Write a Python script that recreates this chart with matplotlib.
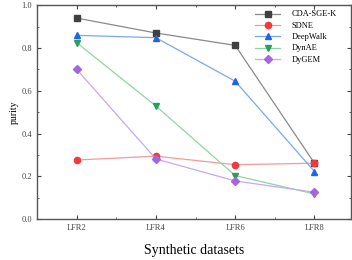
import numpy as np
import matplotlib
matplotlib.use("Agg")
import matplotlib.pyplot as plt
from matplotlib.ticker import MultipleLocator

plt.rcParams['font.family'] = ['Liberation Serif', 'DejaVu Serif']

datasets = ['LFR2', 'LFR4', 'LFR6', 'LFR8']
cda_sge_k = [0.941, 0.871, 0.813, 0.261]
sdne = [0.276, 0.294, 0.254, 0.261]
deepwalk = [0.860, 0.849, 0.645, 0.222]
dynae = [0.826, 0.529, 0.203, 0.117]
dygem = [0.701, 0.281, 0.178, 0.125]

series = [
    ('CDA-SGE-K', cda_sge_k, 's', '#8a8a8a', '#404040'),
    ('SDNE', sdne, 'o', '#f59a9a', '#f03a3a'),
    ('DeepWalk', deepwalk, '^', '#7aa8f0', '#1f66e6'),
    ('DynAE', dynae, 'v', '#8fd4a8', '#2a9e5c'),
    ('DyGEM', dygem, 'D', '#c8a8ee', '#a366e0'),
]

fig = plt.figure(figsize=(3.52, 2.60), dpi=100)
ax = fig.add_axes([0.105, 0.158, 0.892, 0.821])
x = np.arange(len(datasets))

for name, vals, mk, lc, mc in series:
    ms = 4 if mk == 'D' else 4.5
    ax.plot(x, vals, color=lc, lw=0.9, marker=mk, markersize=ms,
            markerfacecolor=mc, markeredgecolor=mc, label=name)

ax.set_xlim(-0.5, 3.46)
ax.set_ylim(0, 1.0)
ax.set_xticks(x)
ax.set_xticklabels(datasets)
ax.xaxis.set_minor_locator(MultipleLocator(0.5))
ax.yaxis.set_major_locator(MultipleLocator(0.2))
ax.yaxis.set_minor_locator(MultipleLocator(0.1))
ax.yaxis.set_major_formatter(matplotlib.ticker.FormatStrFormatter('%.1f'))
ax.tick_params(which='both', direction='in', top=True, right=True, labelsize=6, colors='#444444')
ax.tick_params(which='major', length=3)
ax.tick_params(which='minor', length=1.5)
for s in ax.spines.values():
    s.set_color('#555555')
    s.set_linewidth(1.0)

ax.set_ylabel('purity', fontsize=7, labelpad=2)
xl = ax.set_xlabel('Synthetic datasets', fontsize=10, labelpad=9)

leg = ax.legend(loc='upper left', bbox_to_anchor=(0.68, 1.0), borderaxespad=0.2,
                frameon=False, fontsize=6, handlelength=3.0, handletextpad=1.3,
                labelspacing=0.4)

plt.savefig('out.png', dpi=100)
